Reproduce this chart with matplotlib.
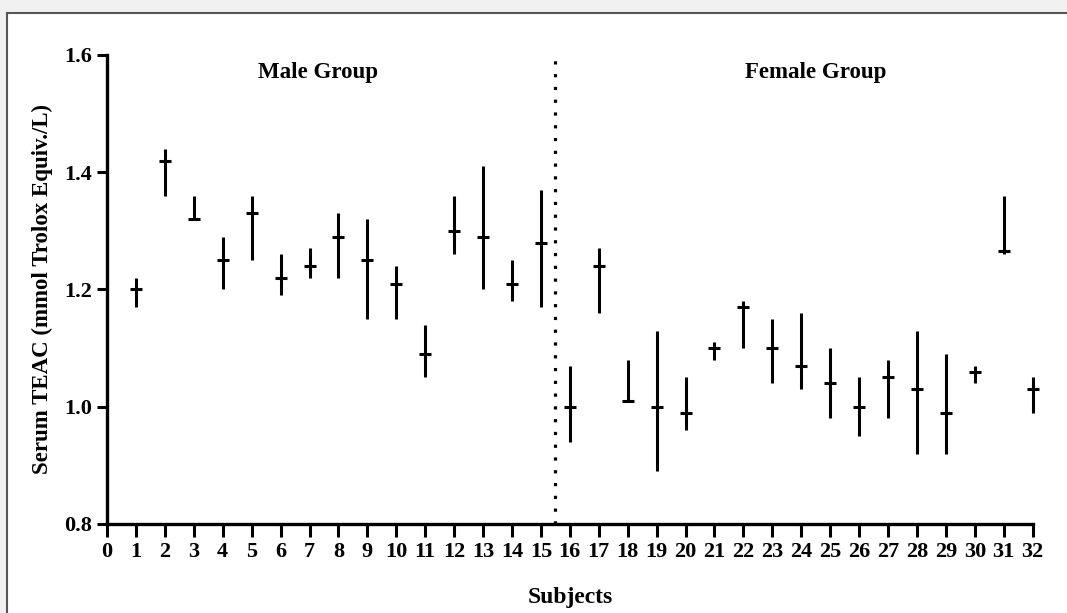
import matplotlib
matplotlib.use("Agg")
import matplotlib.pyplot as plt
from matplotlib.patches import Rectangle
import numpy as np

# serum TEAC per subject: mean, lowest and highest value
subjects = list(range(1, 33))
teac_mean = [1.20, 1.42, 1.32, 1.25, 1.33, 1.22, 1.24, 1.29, 1.25, 1.21, 1.09, 1.30, 1.29, 1.21, 1.28,
             1.00, 1.24, 1.01, 1.00, 0.99, 1.10, 1.17, 1.10, 1.07, 1.04, 1.00, 1.05, 1.03, 0.99, 1.06, 1.265, 1.03]
teac_low = [1.17, 1.36, 1.32, 1.20, 1.25, 1.19, 1.22, 1.22, 1.15, 1.15, 1.05, 1.26, 1.20, 1.18, 1.17,
            0.94, 1.16, 1.01, 0.89, 0.96, 1.08, 1.10, 1.04, 1.03, 0.98, 0.95, 0.98, 0.92, 0.92, 1.04, 1.26, 0.99]
teac_high = [1.22, 1.44, 1.36, 1.29, 1.36, 1.26, 1.27, 1.33, 1.32, 1.24, 1.14, 1.36, 1.41, 1.25, 1.37,
             1.07, 1.27, 1.08, 1.13, 1.05, 1.11, 1.18, 1.15, 1.16, 1.10, 1.05, 1.08, 1.13, 1.09, 1.07, 1.36, 1.05]
group_split = 15.5
group_names = ["Male Group", "Female Group"]
y_ticks = [0.8, 1.0, 1.2, 1.4, 1.6]

plt.rcParams['font.family'] = ['Liberation Serif', 'DejaVu Serif']
plt.rcParams['font.weight'] = 'bold'

fig = plt.figure(figsize=(10.67, 6.13), dpi=100)
fig.patch.set_facecolor('#f0f0f0')
# white panel with dark frame, like the screenshot
fig.patches.append(Rectangle((7 / 1067, -0.1), 1.2, 1.1 - 13 / 613, transform=fig.transFigure,
                             facecolor='white', edgecolor='#555555', linewidth=1.5, zorder=-10))

ax = fig.add_axes([0.1003, 0.1452, 0.8675, 0.7651])
ax.set_facecolor('none')

mean = np.array(teac_mean)
yerr = [mean - np.array(teac_low), np.array(teac_high) - mean]
ax.errorbar(subjects, mean, yerr=yerr, fmt='_', color='black', ecolor='black',
            elinewidth=2.2, capsize=0, markersize=9, markeredgewidth=2.2, clip_on=False, zorder=3)

ax.vlines(group_split, 0.8, 1.6, colors='black', linestyles=(0, (1, 3)), linewidth=2.3)

ax.text(7.3, 1.57, group_names[0], ha='center', va='center', fontsize=16.5, fontweight='bold')
ax.text(24.5, 1.57, group_names[1], ha='center', va='center', fontsize=16.5, fontweight='bold')

ax.set_xlim(0, 32)
ax.set_ylim(0.8, 1.6)
ax.set_xticks(range(0, 33))
ax.set_yticks(y_ticks)
ax.set_yticklabels([f"{v:.1f}" for v in y_ticks])

for side in ['top', 'right']:
    ax.spines[side].set_visible(False)
for side in ['left', 'bottom']:
    ax.spines[side].set_linewidth(2.4)

ax.tick_params(axis='both', width=2.2, length=7, labelsize=16, pad=4)
ax.tick_params(axis='x', length=9)

ax.set_xlabel('Subjects', fontsize=17, fontweight='bold', labelpad=18)
ax.set_ylabel('Serum TEAC (mmol Trolox Equiv./L)', fontsize=16.5, fontweight='bold', labelpad=8)

fig.savefig('out.png', dpi=100, facecolor=fig.get_facecolor())
